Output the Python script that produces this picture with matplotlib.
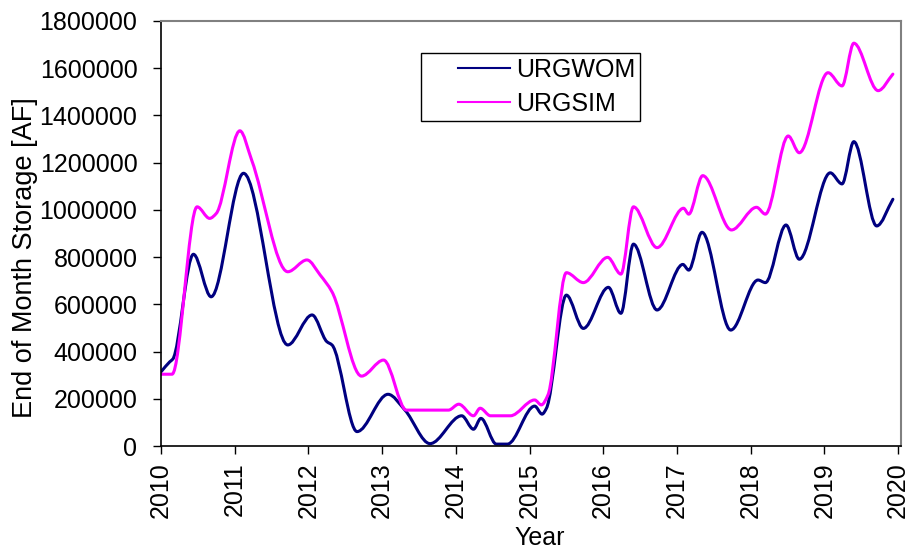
import numpy as np
import matplotlib
matplotlib.use('Agg')
import matplotlib.pyplot as plt
from matplotlib.path import Path
from matplotlib.patches import PathPatch
from matplotlib.lines import Line2D
from matplotlib.legend_handler import HandlerLine2D

plt.rcParams['font.family'] = ['Liberation Sans', 'DejaVu Sans']

# storage, decimal years vs acre-feet
t_wom = [2010.00, 2010.12, 2010.16, 2010.44, 2010.68, 2011.12, 2011.72, 2012.05,
         2012.25, 2012.32, 2012.66, 2013.08, 2013.31, 2013.65, 2014.08, 2014.24,
         2014.34, 2014.55, 2014.70, 2015.07, 2015.17, 2015.23, 2015.50, 2015.73,
         2016.07, 2016.24, 2016.41, 2016.73, 2017.08, 2017.16, 2017.34, 2017.73,
         2018.10, 2018.20, 2018.48, 2018.66, 2019.08, 2019.24, 2019.40, 2019.71,
         2019.93]
urgwom = [314000, 357000, 368000, 812000, 632000, 1155000, 428000, 555000,
          442000, 428000, 61000, 219000, 152000, 10000, 128000, 71000,
          117000, 8000, 8000, 169000, 135000, 160000, 639000, 498000,
          672000, 562000, 855000, 576000, 769000, 745000, 905000, 491000,
          703000, 692000, 936000, 791000, 1157000, 1110000, 1289000, 932000,
          1045000]

t_sim = [2010.00, 2010.15, 2010.49, 2010.66, 2010.75, 2011.07, 2011.23, 2011.72,
         2011.98, 2012.16, 2012.32, 2012.72, 2013.02, 2013.33, 2013.90, 2014.04,
         2014.24, 2014.33, 2014.47, 2014.74, 2015.07, 2015.16, 2015.25, 2015.50,
         2015.73, 2016.06, 2016.24, 2016.41, 2016.73, 2017.09, 2017.16, 2017.35,
         2017.74, 2018.08, 2018.20, 2018.51, 2018.66, 2019.05, 2019.24, 2019.40,
         2019.73, 2019.93]
urgsim = [304000, 304000, 1013000, 964000, 985000, 1335000, 1211000, 738000,
          788000, 724000, 653000, 296000, 364000, 152000, 152000, 177000,
          128000, 160000, 128000, 128000, 195000, 174000, 216000, 734000,
          692000, 799000, 728000, 1013000, 840000, 1007000, 982000, 1145000,
          915000, 1011000, 982000, 1313000, 1242000, 1581000, 1525000, 1706000,
          1505000, 1575000]

years = list(range(2010, 2021))
yticks = list(range(0, 1800001, 200000))


def smooth_path(x, y):
    # smoothed line as cubic beziers, monotone tangents so no overshoot
    x = np.asarray(x, float)
    y = np.asarray(y, float)
    h = np.diff(x)
    d = np.diff(y) / h
    m = np.zeros(len(x))
    m[0], m[-1] = d[0], d[-1]
    for i in range(1, len(x) - 1):
        if d[i - 1] * d[i] > 0:
            w1 = 2 * h[i] + h[i - 1]
            w2 = h[i] + 2 * h[i - 1]
            m[i] = (w1 + w2) / (w1 / d[i - 1] + w2 / d[i])
    verts = [(x[0], y[0])]
    codes = [Path.MOVETO]
    for i in range(len(x) - 1):
        verts += [(x[i] + h[i] / 3, y[i] + m[i] * h[i] / 3),
                  (x[i + 1] - h[i] / 3, y[i + 1] - m[i + 1] * h[i] / 3),
                  (x[i + 1], y[i + 1])]
        codes += [Path.CURVE4] * 3
    return Path(verts, codes)


class ShortLine(HandlerLine2D):
    # legend line starts a bit in from the frame, like the excel legend
    def create_artists(self, legend, orig_handle, xdescent, ydescent,
                       width, height, fontsize, trans):
        arts = super().create_artists(legend, orig_handle, xdescent, ydescent,
                                      width, height, fontsize, trans)
        for a in arts:
            xd = np.asarray(a.get_xdata(), float)
            a.set_xdata(np.linspace(xd[0] + 23, xd[-1], len(xd)))
        return arts


fig = plt.figure(figsize=(9.1, 5.49), dpi=100)
ax = fig.add_axes([161 / 910, 1 - 446 / 549, 740 / 910, 425 / 549])

for x, y, c in [(t_wom, urgwom, '#000080'), (t_sim, urgsim, '#FF00FF')]:
    ax.add_patch(PathPatch(smooth_path(x, y), facecolor='none', edgecolor=c,
                           lw=2.2, capstyle='round', joinstyle='round'))

ax.set_xlim(2010, 2020.04)
ax.set_ylim(0, 1800000)
ax.set_xticks(years)
ax.set_xticklabels([str(v) for v in years], rotation=90, fontsize=18)
ax.set_yticks(yticks)
ax.set_yticklabels([str(v) for v in yticks], fontsize=18)
ax.tick_params(axis='y', direction='out', length=6, width=1, pad=11)
ax.tick_params(axis='x', direction='out', length=6, width=1, pad=6)

for s in ['left', 'bottom']:
    ax.spines[s].set_color('black')
    ax.spines[s].set_linewidth(1.2)
for s in ['top', 'right']:
    ax.spines[s].set_color('#808080')
    ax.spines[s].set_linewidth(1.5)

ax.set_ylabel('End of Month Storage [AF]', fontsize=19.5)
ax.yaxis.set_label_coords(-0.166, 0.4435)
ax.set_xlabel('Year', fontsize=18)
ax.xaxis.set_label_coords(0.512, -0.188)

handles = [Line2D([], [], color='#000080', lw=1.5),
           Line2D([], [], color='#FF00FF', lw=1.5)]
leg = ax.legend(handles, ['URGWOM', 'URGSIM'], loc='upper left',
                bbox_to_anchor=(0.351, 0.925), borderaxespad=0, fontsize=18,
                fancybox=False, edgecolor='black', framealpha=1,
                handlelength=3.36, handletextpad=0.25, labelspacing=0.4,
                borderpad=0.2, handler_map={Line2D: ShortLine()})
leg.get_frame().set_linewidth(1.0)

fig.savefig('out.png', dpi=100)
